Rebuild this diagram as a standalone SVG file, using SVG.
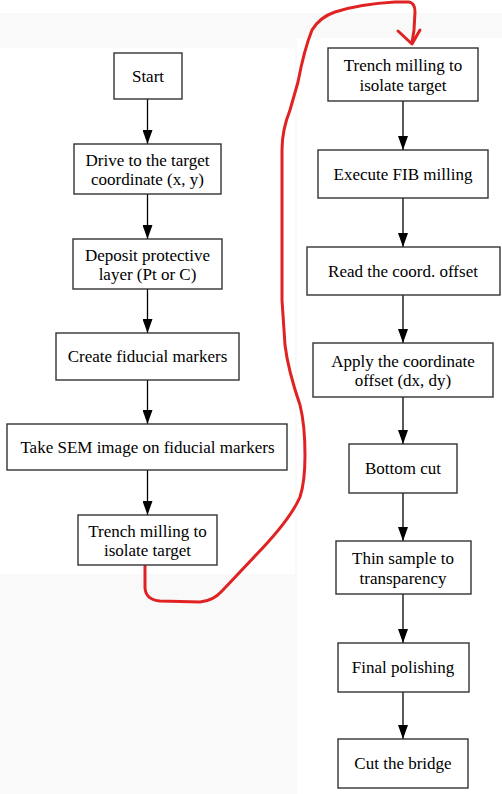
<svg xmlns="http://www.w3.org/2000/svg" width="502" height="794" viewBox="0 0 502 794">
<defs>
<style>
.bg{fill:#f9f9f9}
.panel{fill:#ffffff}
.box{fill:#ffffff;stroke:#333333;stroke-width:1.4}
.t{font-size:17px;fill:#000;text-anchor:middle}
.edge{stroke:#000;stroke-width:1.3;fill:none;marker-end:url(#ah)}
.red{stroke:#e02222;stroke-width:3;fill:none;stroke-linecap:round;stroke-linejoin:round}
</style>
<marker id="ah" markerUnits="userSpaceOnUse" markerWidth="14" markerHeight="10" refX="14" refY="5" orient="auto">
<path d="M0,0 L14,5 L0,10 z" fill="#000"/>
</marker>
</defs>
<rect x="0" y="0" width="502" height="794" fill="#ffffff"/>
<rect class="bg" x="0" y="13" width="502" height="781"/>
<rect class="panel" x="0" y="48" width="295" height="526"/>
<rect class="panel" x="297" y="38" width="205" height="756"/>

<g id="connectors">
<line class="edge" x1="147.5" y1="99" x2="147.5" y2="144"/>
<line class="edge" x1="147.5" y1="194" x2="147.5" y2="239"/>
<line class="edge" x1="147.5" y1="289" x2="147.5" y2="333"/>
<line class="edge" x1="147.5" y1="380" x2="147.5" y2="424"/>
<line class="edge" x1="147.5" y1="470" x2="147.5" y2="515"/>
<line class="edge" x1="403" y1="101" x2="403" y2="150"/>
<line class="edge" x1="403" y1="198" x2="403" y2="247"/>
<line class="edge" x1="403" y1="295" x2="403" y2="343"/>
<line class="edge" x1="403" y1="397" x2="403" y2="444"/>
<line class="edge" x1="403" y1="493" x2="403" y2="541"/>
<line class="edge" x1="403" y1="594" x2="403" y2="643"/>
<line class="edge" x1="403" y1="692" x2="403" y2="739"/>
<path class="red" d="M145,566 L145,588 Q146,600 160,601 L200,602 Q213,601 222,591 L255,556 Q290,520 300,497 Q305,482 305,455 Q305,425 300,405 Q288,370 285,345 L282,300 L282,150 Q282,130 290,110 L298,82 Q304,50 312,30 Q320,17 335,12 Q360,4 395,2 L409,2 Q415,3 415,12 L414,30 L412,43"/>
<path class="red" d="M398,31 L412,44 L420,30"/>
</g>

<g id="start"><rect class="box" x="114" y="53" width="68" height="46"/><text class="t" font-family="Liberation Serif" x="148" y="82">Start</text></g>
<g id="drive"><rect class="box" x="74" y="144" width="147" height="50"/><text class="t" font-family="Liberation Serif" x="147.5" y="166">Drive to the target</text><text class="t" font-family="Liberation Serif" x="147.5" y="185">coordinate (x, y)</text></g>
<g id="deposit"><rect class="box" x="73" y="239" width="149" height="50"/><text class="t" font-family="Liberation Serif" x="147.5" y="261">Deposit protective</text><text class="t" font-family="Liberation Serif" x="147.5" y="280">layer (Pt or C)</text></g>
<g id="fiducial"><rect class="box" x="56" y="333" width="183" height="47"/><text class="t" font-family="Liberation Serif" x="147.5" y="362">Create fiducial markers</text></g>
<g id="sem"><rect class="box" x="7" y="424" width="280" height="46"/><text class="t" font-family="Liberation Serif" x="147.5" y="453">Take SEM image on fiducial markers</text></g>
<g id="trench-left"><rect class="box" x="78" y="515" width="139" height="50"/><text class="t" font-family="Liberation Serif" x="147.5" y="537">Trench milling to</text><text class="t" font-family="Liberation Serif" x="147.5" y="556">isolate target</text></g>

<g id="trench-right"><rect class="box" x="328" y="48" width="150" height="53"/><text class="t" font-family="Liberation Serif" x="403" y="71">Trench milling to</text><text class="t" font-family="Liberation Serif" x="403" y="91">isolate target</text></g>
<g id="fib"><rect class="box" x="318" y="150" width="170" height="48"/><text class="t" font-family="Liberation Serif" x="403" y="180">Execute FIB milling</text></g>
<g id="read"><rect class="box" x="307" y="247" width="193" height="48"/><text class="t" font-family="Liberation Serif" x="403" y="277">Read the coord. offset</text></g>
<g id="apply"><rect class="box" x="313" y="343" width="180" height="54"/><text class="t" font-family="Liberation Serif" x="403" y="367">Apply the coordinate</text><text class="t" font-family="Liberation Serif" x="403" y="386">offset (dx, dy)</text></g>
<g id="bottom"><rect class="box" x="349" y="444" width="108" height="49"/><text class="t" font-family="Liberation Serif" x="403" y="474">Bottom cut</text></g>
<g id="thin"><rect class="box" x="336" y="541" width="135" height="53"/><text class="t" font-family="Liberation Serif" x="403" y="564">Thin sample to</text><text class="t" font-family="Liberation Serif" x="403" y="584">transparency</text></g>
<g id="polish"><rect class="box" x="338" y="643" width="131" height="49"/><text class="t" font-family="Liberation Serif" x="403" y="673">Final polishing</text></g>
<g id="bridge"><rect class="box" x="338" y="739" width="130" height="49"/><text class="t" font-family="Liberation Serif" x="403" y="769">Cut the bridge</text></g>
</svg>
